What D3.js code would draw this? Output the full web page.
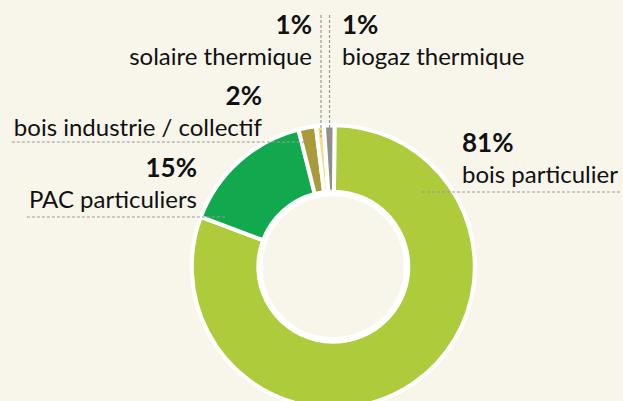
<!DOCTYPE html>
<html>
<head>
<meta charset="utf-8">
<script src="https://cdn.jsdelivr.net/npm/d3@7"></script>
<style>
html, body { margin: 0; padding: 0; background: #f8f6eb; }
svg { display: block; font-family: Lato, "Open Sans", sans-serif; }
</style>
</head>
<body>
<svg id="chart" width="623" height="401"></svg>
<script>
// data (clockwise from the top)
var categories = ["bois particulier", "PAC particuliers", "bois industrie / collectif",
                  "solaire thermique", "biogaz thermique"];
var shares = [80.6, 15.3, 2.0, 0.9, 1.2];
var pctLabels = ["81%", "15%", "2%", "1%", "1%"];
var colors = ["#adcb3a", "#12a94e", "#a99a3b", "#fdd98d", "#8e8e8e"];

// where each label sits and how its leader runs
var labelLayout = [
    {anchor: "start", x: 462, y: 152, leader: {dir: "h", y: 192, r: 116}},
    {anchor: "end",   x: 197, y: 177, leader: {dir: "h", y: 217, r: 119}},
    {anchor: "end",   x: 262, y: 105, leader: {dir: "h", y: 142, r: 128}},
    {anchor: "end",   x: 312, y: 34,  leader: {dir: "v", y: 15,  r: 130}},
    {anchor: "start", x: 342, y: 34,  leader: {dir: "v", y: 15,  r: 130}}
];

var width = 623, height = 401;
var cx = 333.3, cy = 266.7;
var outer = 141.5, inner = 75;

var svg = d3.select("#chart");

var pie = d3.pie()
    .sort(null)
    .value(function(d) { return d; })
    .startAngle(0.5 * Math.PI / 180)
    .endAngle(2 * Math.PI + 0.5 * Math.PI / 180);

var arc = d3.arc()
    .innerRadius(inner)
    .outerRadius(outer);

var arcs = pie(shares);

var g = svg.append("g")
    .attr("transform", "translate(" + cx + "," + cy + ")");

g.selectAll("path")
    .data(arcs)
    .enter()
    .append("path")
    .attr("d", arc)
    .attr("fill", function(d, i) { return colors[i]; })
    .attr("stroke", "white")
    .attr("stroke-width", 4)
    .attr("stroke-linejoin", "miter");

// thicker white edge round the hole
g.append("circle")
    .attr("r", inner - 2)
    .attr("fill", "none")
    .attr("stroke", "white")
    .attr("stroke-width", 5);

// labels
var labels = svg.selectAll("g.label")
    .data(arcs)
    .enter()
    .append("g")
    .attr("class", "label");

labels.append("text")
    .attr("x", function(d, i) { return labelLayout[i].x; })
    .attr("y", function(d, i) { return labelLayout[i].y; })
    .attr("text-anchor", function(d, i) { return labelLayout[i].anchor; })
    .attr("font-size", "26px")
    .attr("font-weight", "bold")
    .attr("fill", "#111")
    .text(function(d, i) { return pctLabels[i]; });

var names = labels.append("text")
    .attr("x", function(d, i) { return labelLayout[i].x; })
    .attr("y", function(d, i) { return labelLayout[i].y + 31; })
    .attr("text-anchor", function(d, i) { return labelLayout[i].anchor; })
    .attr("font-size", "24px")
    .attr("fill", "#111")
    .text(function(d, i) { return categories[i]; });

// leader lines
var leaders = [];
names.each(function(d, i) {
    var lay = labelLayout[i];
    var box = this.getBBox();
    if (lay.leader.dir == "h") {
        var dy = lay.leader.y - cy;
        var dx = Math.sqrt(lay.leader.r * lay.leader.r - dy * dy);
        if (lay.anchor == "start") {
            leaders.push([cx + dx, lay.leader.y, Math.min(width, box.x + box.width + 2), lay.leader.y]);
        } else {
            leaders.push([box.x - 2, lay.leader.y, cx - dx, lay.leader.y]);
        }
    } else {
        var a = (d.startAngle + d.endAngle) / 2;
        var x = cx + lay.leader.r * Math.sin(a);
        var y = cy - lay.leader.r * Math.cos(a);
        leaders.push([x, lay.leader.y, x, y]);
    }
});

svg.selectAll("line.leader")
    .data(leaders)
    .enter()
    .append("line")
    .attr("class", "leader")
    .attr("x1", function(d) { return d[0]; })
    .attr("y1", function(d) { return d[1]; })
    .attr("x2", function(d) { return d[2]; })
    .attr("y2", function(d) { return d[3]; })
    .attr("stroke", "#999")
    .attr("stroke-width", 1.2)
    .attr("stroke-dasharray", "3,2");
</script>
</body>
</html>
